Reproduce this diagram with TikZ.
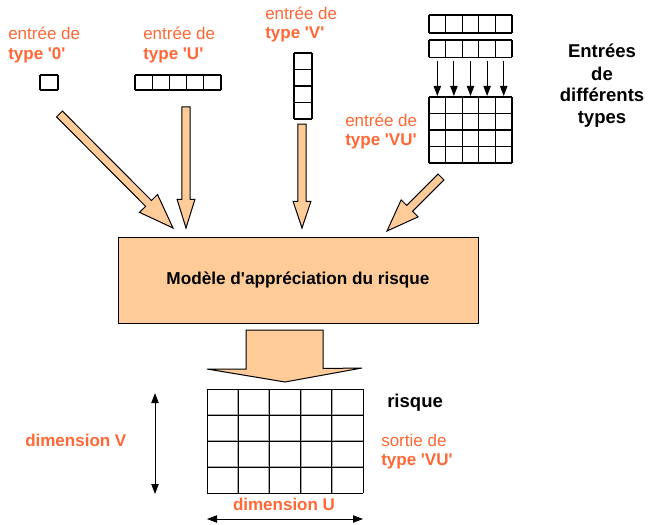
\documentclass[tikz,border=0pt]{standalone}
\usepackage{fontspec}
\setmainfont{Liberation Sans}[Ligatures=TeXOff]
\usetikzlibrary{calc,arrows.meta}
\definecolor{lbl}{HTML}{FF6836}
\definecolor{peach}{HTML}{FFCC99}

% broad filled arrow: tail, tip, shaft half-width, head half-width, head length
\newcommand\fatarrow[5]{%
  \coordinate (fa-h) at ($(#2)!#5!(#1)$);
  \draw[fatline] ($(#1)!#3!90:(#2)$) -- ($(fa-h)!#3!90:(#2)$) -- ($(fa-h)!#4!90:(#2)$)
    -- (#2) -- ($(fa-h)!#4!-90:(#2)$) -- ($(fa-h)!#3!-90:(#2)$) -- ($(#1)!#3!-90:(#2)$) -- cycle;
}
% block of cells: name, x, y, columns, rows, cell width, cell height
\newcommand\cells[7]{%
  \coordinate (#1) at (#2,#3);
  \foreach \i in {0,...,#4}{\draw[cellline] ($(#1)+(\i*#6,0)$) -- ($(#1)+(\i*#6,#5*#7)$);}
  \foreach \j in {0,...,#5}{\draw[cellline] ($(#1)+(0,\j*#7)$) -- ($(#1)+(#4*#6,\j*#7)$);}
}

\begin{document}
\begin{tikzpicture}[x=0.75pt,y=-0.75pt,
  lab/.style={text=lbl,font=\fontsize{12.75}{15}\selectfont,inner sep=0,anchor=base west},
  labb/.style={lab,font=\fontsize{12.75}{15}\selectfont\bfseries},
  blk/.style={inner sep=0,anchor=base,font=\fontsize{13.9}{16}\selectfont\bfseries},
  fatline/.style={draw=black,fill=peach,line width=0.75pt,line join=miter},
  cellline/.style={draw=black,line width=0.8pt},
  thin/.style={line width=0.75pt,-{Triangle[length=7.5pt,width=5.5pt]}},
  dim/.style={line width=0.75pt,{Triangle[length=7.5pt,width=5.5pt]}-{Triangle[length=7.5pt,width=5.5pt]}}]
\useasboundingbox (0,0) rectangle (648,524);

% ---- input labels
\node[lab]  (t0a) at (8,40)  {entrée de};
\node[labb] (t0b) at (8,59.5)  {type '0'};
\node[lab]  (tua) at (143,40) {entrée de};
\node[labb] (tub) at (143,59.5) {type 'U'};
\node[lab]  (tva) at (265,19.5) {entrée de};
\node[labb] (tvb) at (265,38.5) {type 'V'};
\node[lab]  (twa) at (345,127) {entrée de};
\node[labb] (twb) at (345,145.5) {type 'VU'};

\node[blk] (e1) at (602,58)  {Entrées};
\node[blk] (e2) at (602,80.5)  {de};
\node[blk] (e3) at (602,102) {différents};
\node[blk] (e4) at (602,123) {types};

% ---- input cells
\cells{c0}{40}{75}{1}{1}{18}{15}
\cells{cu}{135}{75}{5}{1}{17.2}{15}
\cells{cv}{294}{53}{1}{4}{18}{16.5}
\cells{cw1}{429}{15}{5}{1}{16.6}{18}
\cells{cw2}{429}{40}{5}{1}{16.6}{17.5}
\cells{cw}{429}{97}{5}{4}{16.6}{16.5}

% merging arrows of the VU input
\foreach \k in {0,...,4}{
  \coordinate (ms\k) at (437.3+\k*16.6,61);
  \coordinate (me\k) at (437.3+\k*16.6,96);
  \draw[thin] (ms\k) -- (me\k);
}

% ---- model box
\node[draw=black,fill=peach,line width=0.75pt,minimum width=270pt,minimum height=64.5pt,
      inner sep=0,font=\fontsize{12.9}{15}\selectfont\bfseries] (model) at (298,280)
      {Modèle d'appréciation du risque};

% ---- inputs feeding the model
\coordinate (a1s) at (59.5,114); \coordinate (a1e) at (173,228);
\coordinate (a2s) at (186,107);  \coordinate (a2e) at (186,228);
\coordinate (a3s) at (302,124);  \coordinate (a3e) at (302,228);
\coordinate (a4s) at (441,177);  \coordinate (a4e) at (387,231);
\fatarrow{a1s}{a1e}{3.1pt}{9.5pt}{26pt}
\fatarrow{a2s}{a2e}{3.1pt}{6.7pt}{21.5pt}
\fatarrow{a3s}{a3e}{3.1pt}{6.7pt}{20pt}
\fatarrow{a4s}{a4e}{3.1pt}{9pt}{24pt}

% ---- output arrow
\coordinate (oa) at (285,382);
\draw[fatline] (246,330) -- (323,330) -- (323,368.5) -- (362,368) -- (oa)
  -- (207,369) -- (246,369) -- cycle;

% ---- output grid
\coordinate (og) at (207,389);
\foreach \i in {1,...,4}{
  \draw[gray!70,line width=1.4pt] ($(og)+(\i*31.2,0)$) -- ($(og)+(\i*31.2,104)$);}
\foreach \j in {1,...,3}{
  \draw[gray!70,line width=1.4pt] ($(og)+(0,\j*26)$) -- ($(og)+(156,\j*26)$);}
\foreach \i in {0,...,5}{
  \draw[black,line width=0.7pt] ($(og)+(\i*31.2,0)$) -- ($(og)+(\i*31.2,104)$);}
\foreach \j in {0,...,4}{
  \draw[black,line width=0.7pt] ($(og)+(0,\j*26)$) -- ($(og)+(156,\j*26)$);}

\node[blk,anchor=base west] (risk) at (387,407.5) {risque};
\node[lab]  (sa) at (381,446) {sortie de};
\node[labb] (sb) at (381,465) {type 'VU'};

% ---- dimensions
\coordinate (dv1) at (155,393); \coordinate (dv2) at (155,494);
\draw[dim] (dv1) -- (dv2);
\coordinate (du1) at (207,519); \coordinate (du2) at (363,519);
\draw[dim] (du1) -- (du2);
\node[labb,anchor=base] (dU) at (284,510) {dimension U};
\node[labb] (dV) at (25,446) {dimension V};
\end{tikzpicture}
\end{document}
